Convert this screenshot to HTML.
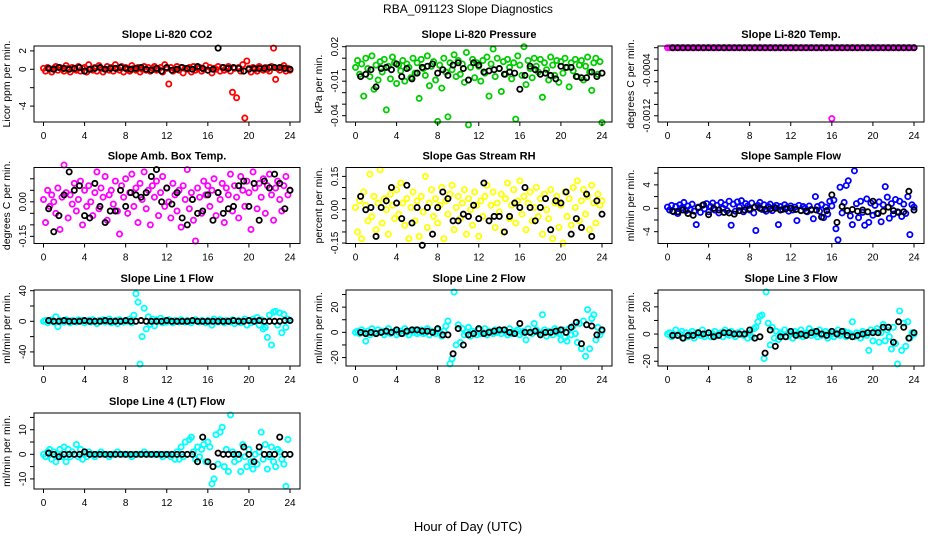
<!DOCTYPE html>
<html><head><meta charset="utf-8">
<style>
html,body{margin:0;padding:0;background:#fff;}
svg{display:block;font-family:"Liberation Sans",Arial,sans-serif;}
</style></head>
<body>
<svg id="chart" width="936" height="540" viewBox="0 0 936 540">
<text x="468" y="13" text-anchor="middle" font-size="12">RBA_091123  Slope Diagnostics</text>
<text x="468" y="531" text-anchor="middle" font-size="13">Hour of Day (UTC)</text>
</svg>
<script>
// Hours for colored series (every 0.2 h) and black series (every 0.5 h)
const hoursColor = [0,0.2,0.4,0.6,0.8,1,1.2,1.4,1.6,1.8,2,2.2,2.4,2.6,2.8,3,3.2,3.4,3.6,3.8,4,4.2,4.4,4.6,4.8,5,5.2,5.4,5.6,5.8,6,6.2,6.4,6.6,6.8,7,7.2,7.4,7.6,7.8,8,8.2,8.4,8.6,8.8,9,9.2,9.4,9.6,9.8,10,10.2,10.4,10.6,10.8,11,11.2,11.4,11.6,11.8,12,12.2,12.4,12.6,12.8,13,13.2,13.4,13.6,13.8,14,14.2,14.4,14.6,14.8,15,15.2,15.4,15.6,15.8,16,16.2,16.4,16.6,16.8,17,17.2,17.4,17.6,17.8,18,18.2,18.4,18.6,18.8,19,19.2,19.4,19.6,19.8,20,20.2,20.4,20.6,20.8,21,21.2,21.4,21.6,21.8,22,22.2,22.4,22.6,22.8,23,23.2,23.4,23.6,23.8,24];
const hoursBlack = [0.5,1,1.5,2,2.5,3,3.5,4,4.5,5,5.5,6,6.5,7,7.5,8,8.5,9,9.5,10,10.5,11,11.5,12,12.5,13,13.5,14,14.5,15,15.5,16,16.5,17,17.5,18,18.5,19,19.5,20,20.5,21,21.5,22,22.5,23,23.5,24];
const xTicks = [0,4,8,12,16,20,24];

const co2Color = [0.1,-0.2,0.2,0.0,-0.3,0.1,0.3,-0.1,0.2,0.0,-0.2,0.4,0.1,-0.3,0.2,0.0,-0.1,0.3,-0.2,0.1,0.2,-0.3,0.5,0.0,-0.1,0.2,-0.2,0.4,0.1,-0.3,0.0,0.3,-0.1,0.2,-0.2,0.5,0.1,-0.1,0.3,-0.3,0.2,0.0,-0.2,0.4,0.1,-0.1,0.2,-0.3,0.0,0.3,-0.1,0.2,-0.2,0.1,0.3,-0.1,0.0,0.2,-0.3,0.5,0.1,-1.6,0.2,-0.2,0.0,0.3,-0.1,0.2,-0.4,0.1,0.0,0.2,-0.3,0.3,-0.1,0.1,0.2,-0.2,0.0,0.4,-0.1,0.2,-0.4,0.1,0.0,0.3,-0.2,0.2,-0.1,0.1,0.3,-0.2,-2.5,0.1,-3.1,0.2,-0.2,0.5,-5.3,0.9,0.1,-0.3,0.2,0.0,-0.2,0.3,0.1,-0.1,0.2,0.0,-0.2,0.3,2.3,-1.1,0.1,-0.1,0.2,0.4,-0.2,0.1,-0.1];
const co2Black = [0.1,0,0.2,0.1,0,0.1,0.2,-0.2,0,0.1,0.2,0,0.1,0.1,0.2,0.1,0,0.1,0.2,0,-0.1,0.1,-0.2,0.2,-0.1,0,0.2,0.1,0,0.3,0.1,-0.1,0,2.3,0.2,0.1,0.2,0.1,-0.2,0,0.1,0.1,0.1,0.2,0.2,0.2,0.1,0];

const presColor = [0.002,0.008,-0.004,0.005,-0.023,0.010,0.001,-0.006,0.012,-0.017,0.004,-0.009,0.007,-0.002,0.009,-0.035,0.003,-0.008,0.011,0.006,-0.012,0.004,-0.001,0.008,-0.010,0.005,0.002,-0.007,0.010,-0.003,0.006,-0.025,0.009,0.001,-0.005,0.012,-0.014,0.003,0.007,-0.009,-0.045,0.004,-0.016,0.010,-0.002,-0.041,0.006,0.000,0.013,-0.006,0.008,-0.004,0.005,-0.011,0.015,-0.048,0.002,0.009,-0.007,0.006,0.003,-0.010,0.008,-0.003,0.011,-0.023,0.005,0.018,-0.006,0.010,0.001,-0.019,0.007,-0.004,0.009,0.002,-0.008,0.006,-0.043,0.012,0.004,-0.005,0.020,-0.013,0.008,0.001,-0.007,0.010,0.003,-0.002,0.009,-0.024,0.006,0.000,-0.009,0.011,0.004,-0.005,0.008,-0.011,0.007,-0.003,0.010,0.002,-0.015,0.006,-0.001,0.009,-0.006,0.004,0.008,-0.009,0.003,0.011,-0.002,-0.018,0.006,0.010,-0.004,0.007,-0.046];
const presBlack = [-0.006,-0.004,0,-0.015,0.001,0.002,0,0.005,-0.006,0.001,-0.008,-0.003,0.002,0.003,0.005,-0.003,0,-0.005,0.004,0.006,0.001,-0.009,0.006,0.004,-0.002,-0.001,0,0.001,-0.004,-0.002,-0.003,-0.017,-0.005,0.003,0,-0.004,-0.003,-0.005,-0.008,0.003,0.002,0.002,-0.006,-0.007,-0.007,-0.002,-0.006,-0.003];

const tempColor = [0,0,0,0,0,0,0,0,0,0,0,0,0,0,0,0,0,0,0,0,0,0,0,0,0,0,0,0,0,0,0,0,0,0,0,0,0,0,0,0,0,0,0,0,0,0,0,0,0,0,0,0,0,0,0,0,0,0,0,0,0,0,0,0,0,0,0,0,0,0,0,0,0,0,0,0,0,0,0,0,-0.00125,0,0,0,0,0,0,0,0,0,0,0,0,0,0,0,0,0,0,0,0,0,0,0,0,0,0,0,0,0,0,0,0,0,0,0,0,0,0,0,0];
const tempBlack = [0,0,0,0,0,0,0,0,0,0,0,0,0,0,0,0,0,0,0,0,0,0,0,0,0,0,0,0,0,0,0,0,0,0,0,0,0,0,0,0,0,0,0,0,0,0,0,0];

const ambColor = [0.01,-0.09,0.05,-0.02,0.03,0.00,-0.05,0.06,-0.12,0.02,0.16,0.04,-0.07,0.03,-0.01,0.08,-0.04,0.01,0.09,-0.10,0.05,-0.02,0.07,0.00,-0.06,0.04,0.13,-0.03,0.06,0.02,0.11,-0.08,0.03,0.05,-0.01,0.09,-0.04,-0.14,0.07,0.02,0.10,-0.05,0.04,0.12,-0.02,0.06,-0.09,0.08,0.01,0.13,-0.03,0.05,-0.10,0.07,0.02,0.09,-0.06,0.04,0.11,-0.02,0.06,0.00,-0.07,0.08,0.03,-0.04,0.05,-0.11,0.07,0.01,0.14,-0.03,0.04,-0.08,-0.17,0.06,0.02,-0.05,0.09,0.03,0.07,-0.02,0.05,0.10,-0.06,0.04,0.01,0.08,-0.09,0.06,0.03,0.12,-0.04,0.07,0.02,-0.07,0.11,0.05,-0.02,0.09,0.04,-0.12,0.13,0.06,-0.03,0.08,0.02,0.10,-0.05,0.07,0.12,0.03,-0.08,0.06,0.09,0.01,-0.04,0.07,0.11,0.03,0.05];
const ambBlack = [-0.03,-0.13,-0.06,0.03,0.13,0.05,0.07,-0.06,-0.07,0.08,-0.02,-0.09,-0.04,-0.04,0.05,-0.02,0.04,0.03,0.02,0.04,0.11,0.14,0.00,0.06,-0.01,0.04,-0.07,-0.10,0.01,-0.05,-0.04,0.03,-0.08,0.04,-0.05,-0.03,-0.02,0.07,0.09,-0.02,0.08,-0.08,0.09,0.06,0.12,0.08,-0.03,0.05];

const rhColor = [0.01,-0.10,0.04,-0.13,0.08,0.02,-0.05,0.16,-0.03,0.06,-0.09,0.03,0.18,-0.06,0.05,0.00,-0.11,0.07,0.02,-0.04,0.09,-0.02,0.12,0.03,-0.07,0.05,-0.13,0.01,0.08,-0.05,0.04,-0.12,0.06,-0.01,0.15,-0.08,0.03,0.09,-0.03,0.05,-0.06,0.02,0.10,-0.13,0.04,-0.02,0.07,0.11,-0.09,0.01,0.06,-0.04,0.03,0.09,-0.11,0.05,0.00,-0.07,0.08,0.02,-0.12,0.04,-0.03,0.06,0.11,-0.05,0.02,0.08,-0.08,0.03,-0.01,0.07,-0.10,0.05,0.12,-0.04,0.02,0.09,-0.06,0.04,0.13,-0.02,0.06,-0.09,0.03,0.08,-0.05,0.01,0.10,-0.03,0.05,-0.11,0.07,0.00,-0.04,0.09,-0.13,0.03,0.06,-0.08,0.02,-0.15,0.08,-0.03,0.05,-0.07,0.10,0.01,0.13,-0.05,0.04,0.09,-0.02,0.06,-0.09,0.11,0.03,-0.06,0.07,0.02,0.04];
const rhBlack = [0.06,0.00,0.01,-0.12,0.01,0.04,0.10,0.03,-0.04,0.11,-0.06,0.01,-0.16,0.01,-0.11,0.01,0.08,0.05,-0.05,-0.05,-0.02,-0.03,0.02,-0.04,0.12,-0.05,-0.03,-0.03,-0.10,-0.03,0.03,0.01,0.10,0.01,-0.05,0.01,0.05,-0.09,0.04,0.03,0.08,-0.11,-0.04,-0.08,0.07,-0.12,0.04,-0.02];

const sampleColor = [0.2,-0.3,0.5,-0.6,0.3,-0.9,0.6,0.1,1.0,-0.4,0.4,-0.2,0.7,-0.5,-2.8,0.2,-0.7,0.5,-0.1,0.8,-0.6,0.3,0.9,-0.3,0.5,-0.8,1.0,0.0,0.6,-0.4,1.2,-2.9,0.7,-0.5,1.1,0.2,1.3,-0.6,0.8,0.4,-0.3,0.9,-0.8,-3.8,0.5,1.0,-0.2,0.6,-0.5,0.3,0.7,-0.4,0.2,0.5,-2.8,0.3,-0.2,0.6,0.1,-0.5,0.4,-0.3,0.2,-2.1,0.5,-0.4,0.3,0.0,-0.6,0.4,-0.2,-1.8,2.0,0.3,-0.5,0.6,-1.6,0.2,-1.0,1.2,0.4,1.4,-3.5,-5.4,3.6,-0.8,1.0,3.9,4.7,-1.3,-2.8,6.4,0.8,-1.6,1.2,-0.7,-2.9,1.6,-2.4,0.9,-1.2,0.5,-0.9,1.1,-2.3,0.6,3.7,1.9,-1.7,0.8,-1.0,1.5,-0.6,1.2,-1.4,0.7,-0.9,2.0,-4.5,0.6,0.2];
const sampleBlack = [-0.5,-0.6,-0.3,-0.9,-1.2,0.1,0.6,-1.1,0,-0.3,-0.7,-0.8,-1.0,-0.4,-0.3,-0.1,0.2,0,-0.2,-0.1,0,-0.3,-0.1,0,-0.2,-0.4,-0.5,-0.3,-0.3,-1.5,-0.4,2.3,-2.4,0.3,-0.4,-0.2,-0.5,-0.3,-0.6,1.2,-0.9,-0.5,0.2,-0.4,-0.7,-0.6,2.9,-0.3];

const line1Color = [0,1,-2,0,2,-1,6,-7,1,0,-1,2,0,-2,1,0,-1,2,0,1,-2,0,1,-1,2,0,-3,1,0,2,-1,0,3,-2,0,1,-3,2,0,-1,1,0,3,-2,8,36,25,-56,-20,17,-10,6,-4,3,-6,2,0,4,-2,1,-1,2,0,-2,1,0,-1,2,0,-1,1,0,-2,1,2,0,-1,1,0,-2,1,0,-5,3,0,-1,2,0,-2,1,0,-1,2,-3,0,1,-2,0,3,-5,1,-2,3,0,5,-5,2,-10,-8,-21,8,-31,12,13,-5,11,-15,9,-8,3,1];
const line1Black = [1,0,0,1,0,0,0,1,0,0,0,1,0,0,0,1,0,0,1,0,0,0,0,1,0,0,0,0,1,0,0,0,0,0,0,0,1,0,0,1,0,1,0,0,0,0,1,1];

const line2Color = [0,1,-1,2,0,-7,1,-2,3,0,-1,2,0,1,-2,0,3,-1,0,1,-2,0,1,-1,3,0,-2,1,0,2,-1,0,2,-1,0,3,-2,1,0,-1,2,0,-3,1,5,9,-25,-21,32,-10,6,-8,3,-2,0,4,-3,1,0,-2,2,-1,0,3,-2,1,0,-1,2,0,1,-1,2,0,-2,3,-1,0,1,2,-2,0,1,-6,3,0,-1,7,2,0,-1,14,2,-3,1,0,-2,3,0,-1,-6,2,-4,-7,3,-2,5,-1,-8,7,-13,9,-19,18,-13,11,14,-6,4,-2,1];
const line2Black = [0,-1,0,-1,0,1,0,2,-1,1,2,2,1,1,0,3,-2,-2,-17,3,-10,-2,-1,3,-1,0,1,2,2,0,-1,7,0,0,1,-2,0,0,1,2,0,4,8,-9,6,5,-2,2];

const line3Color = [0,1,-2,0,3,-1,0,2,-3,1,-2,0,2,-3,1,0,-1,3,-2,0,1,-2,0,2,-1,0,1,-2,3,0,-1,2,0,-2,1,0,2,-1,0,-3,1,-2,4,5,9,13,14,-18,31,8,-8,5,-3,2,-4,1,0,3,-2,1,0,-3,2,0,-1,3,-2,0,1,4,-1,2,0,-2,3,-1,0,2,-3,1,0,-2,1,3,-1,0,2,-2,1,0,9,-2,1,0,-3,2,0,-1,-12,3,-5,2,4,-6,1,7,-5,3,-2,-11,5,-7,-22,17,-12,8,-9,9,-3,1,0];
const line3Black = [-1,-1,-3,-1,-1,1,0,1,-2,-1,1,1,0,0,0,3,-3,-2,-14,3,-9,-2,-2,2,-1,0,-1,1,2,0,-1,2,0,2,-1,-2,-1,0,1,1,1,5,5,-6,9,5,-3,1];

const line4Color = [0,-1,1,2,-2,1,-3,0,2,-1,3,-3,2,-1,1,0,4,-1,2,-2,0,-1,1,0,0,-1,0,0,1,0,0,0,-1,0,0,0,1,0,0,0,0,0,0,-1,0,0,0,0,0,1,0,0,0,0,0,0,0,0,-1,0,0,0,-1,0,-2,1,-2,3,-1,5,0,6,7,1,-2,3,-1,2,4,-3,5,3,-12,-10,8,-4,9,11,-5,2,-7,16,1,-3,0,-2,-7,4,-1,-5,2,-3,-6,0,-4,1,9,-2,4,-6,-1,3,-3,-5,2,1,-2,-4,-13,6,0];
const line4Black = [0.5,0,-1,0,0,0,0,1,0,0,0,0,0,0,0,0,0,0,0,0,0,0,0,0,0,0,0,0,0,-3,7,-3,-5,0.5,0,0,0,0,3,0,-3,3,0,0,0,7,0,0];

// Y tick values and printed labels per panel
const co2Ticks = [-4,-2,0,2];            const co2Labels = ["-4","","0","2"];
const presTicks = [-0.04,-0.03,-0.02,-0.01,0,0.01,0.02]; const presLabels = ["-0.04","","","-0.01","","","0.02"];
const tempTicks = [-0.0012,-0.001,-0.0008,-0.0006,-0.0004,-0.0002,0]; const tempLabels = ["-0.0012","","","","-0.0004","",""];
const ambTicks = [-0.15,-0.1,-0.05,0,0.05,0.1]; const ambLabels = ["-0.15","","","0.00","",""];
const rhTicks = [-0.15,-0.1,-0.05,0,0.05,0.1,0.15]; const rhLabels = ["-0.15","","","0.00","","","0.15"];
const sampleTicks = [-4,-2,0,2,4,6];     const sampleLabels = ["-4","","0","","4",""];
const line1Ticks = [-40,-20,0,20,40];    const line1Labels = ["-40","","0","","40"];
const line2Ticks = [-20,-10,0,10,20,30]; const line2Labels = ["-20","","0","","20",""];
const line3Ticks = [-20,-10,0,10,20,30]; const line3Labels = ["-20","","0","","20",""];
const line4Ticks = [-10,-5,0,5,10,15];   const line4Labels = ["-10","","0","","10",""];

const NS = "http://www.w3.org/2000/svg";
const svg = document.getElementById("chart");
function mk(tag, attrs, parent){
  const e = document.createElementNS(NS, tag);
  for (const k in attrs) e.setAttribute(k, attrs[k]);
  (parent||svg).appendChild(e);
  return e;
}
const colLeft = [34, 346, 658], rowTop = [46, 167.5, 290, 413];
const BW = 266, BH = 76;

const panels = [
 {key:"co2", title:"Slope Li-820 CO2", ylab:"Licor ppm per min.", col:0,row:0, ymin:-5.73,ymax:2.53, color:"#ff0000", c:co2Color, b:co2Black, t:co2Ticks, l:co2Labels},
 {key:"pressure", title:"Slope Li-820 Pressure", ylab:"kPa per min.", col:1,row:0, ymin:-0.0455,ymax:0.0206, color:"#00cd00", c:presColor, b:presBlack, t:presTicks, l:presLabels},
 {key:"temp", title:"Slope Li-820 Temp.", ylab:"degrees C per min.", col:2,row:0, ymin:-0.00131,ymax:0.00003, color:"#ff00ff", c:tempColor, b:tempBlack, t:tempTicks, l:tempLabels},
 {key:"amb-box-temp", title:"Slope Amb. Box Temp.", ylab:"degrees C per min.", col:0,row:1, ymin:-0.181,ymax:0.149, color:"#ff00ff", c:ambColor, b:ambBlack, t:ambTicks, l:ambLabels},
 {key:"gas-rh", title:"Slope Gas Stream RH", ylab:"percent per min.", col:1,row:1, ymin:-0.152,ymax:0.19, color:"#ffff00", c:rhColor, b:rhBlack, t:rhTicks, l:rhLabels},
 {key:"sample-flow", title:"Slope Sample Flow", ylab:"ml/min per min.", col:2,row:1, ymin:-6.02,ymax:6.97, color:"#0000ff", c:sampleColor, b:sampleBlack, t:sampleTicks, l:sampleLabels},
 {key:"line1-flow", title:"Slope Line 1 Flow", ylab:"ml/min per min.", col:0,row:2, ymin:-58.4,ymax:40.9, color:"#00ffff", c:line1Color, b:line1Black, t:line1Ticks, l:line1Labels},
 {key:"line2-flow", title:"Slope Line 2 Flow", ylab:"ml/min per min.", col:1,row:2, ymin:-26.7,ymax:33.6, color:"#00ffff", c:line2Color, b:line2Black, t:line2Ticks, l:line2Labels},
 {key:"line3-flow", title:"Slope Line 3 Flow", ylab:"ml/min per min.", col:2,row:2, ymin:-23.5,ymax:32.4, color:"#00ffff", c:line3Color, b:line3Black, t:line3Ticks, l:line3Labels},
 {key:"line4-flow", title:"Slope Line 4 (LT) Flow", ylab:"ml/min per min.", col:0,row:3, ymin:-14.1,ymax:16.8, color:"#00ffff", c:line4Color, b:line4Black, t:line4Ticks, l:line4Labels}
];

panels.forEach(p => {
  const L = colLeft[p.col], T = rowTop[p.row];
  const xs = h => L + 9.5 + h * (246.5 / 24);
  const ys = v => T + (p.ymax - v) / (p.ymax - p.ymin) * BH;
  const g = mk("g", {});
  
  

  const title = mk("text", {x: L + BW/2, y: T - 8, "text-anchor":"middle", "font-size":"11", "font-weight":"bold"}, g);
  title.textContent = p.title;
  
  

  const yl = mk("text", {transform:`translate(${L-24},${T+BH/2}) rotate(-90)`, "text-anchor":"middle", "font-size":"10.5"}, g);
  yl.textContent = p.ylab;
  
  

  const pts = mk("g", {fill:"none", "stroke-width":"1.8"}, g);
  
  
  const nC = Math.min(hoursColor.length, p.c.length);
  for (let i = 0; i < nC; i++) {
    const c = mk("circle", {cx: xs(hoursColor[i]).toFixed(2), cy: ys(p.c[i]).toFixed(2), r: 2.6, stroke: p.color}, pts);
    
    
  }
  const nB = Math.min(hoursBlack.length, p.b.length);
  for (let i = 0; i < nB; i++) {
    const c = mk("circle", {cx: xs(hoursBlack[i]).toFixed(2), cy: ys(p.b[i]).toFixed(2), r: 2.6, stroke: "#000"}, pts);
    
    
  }

  const box = mk("rect", {x: L, y: T, width: BW, height: BH, fill:"none", stroke:"#000", "stroke-width":"1"}, g);
  
  

  xTicks.forEach(h => {
    const x = xs(h);
    const tk = mk("line", {x1:x, x2:x, y1:T+BH, y2:T+BH+4, stroke:"#000"}, g);
    
    
    const tl = mk("text", {x:x, y:T+BH+17, "text-anchor":"middle", "font-size":"10"}, g);
    tl.textContent = h;
    
    
  });
  p.t.forEach((v, i) => {
    const y = ys(v);
    const tk = mk("line", {x1:L-4, x2:L, y1:y, y2:y, stroke:"#000"}, g);
    
    
    if (p.l[i]) {
      const tl = mk("text", {transform:`translate(${L-8},${y}) rotate(-90)`, "text-anchor":"middle", "font-size":"10"}, g);
      tl.textContent = p.l[i];
      
      
    }
  });
});
</script>
</body></html>
